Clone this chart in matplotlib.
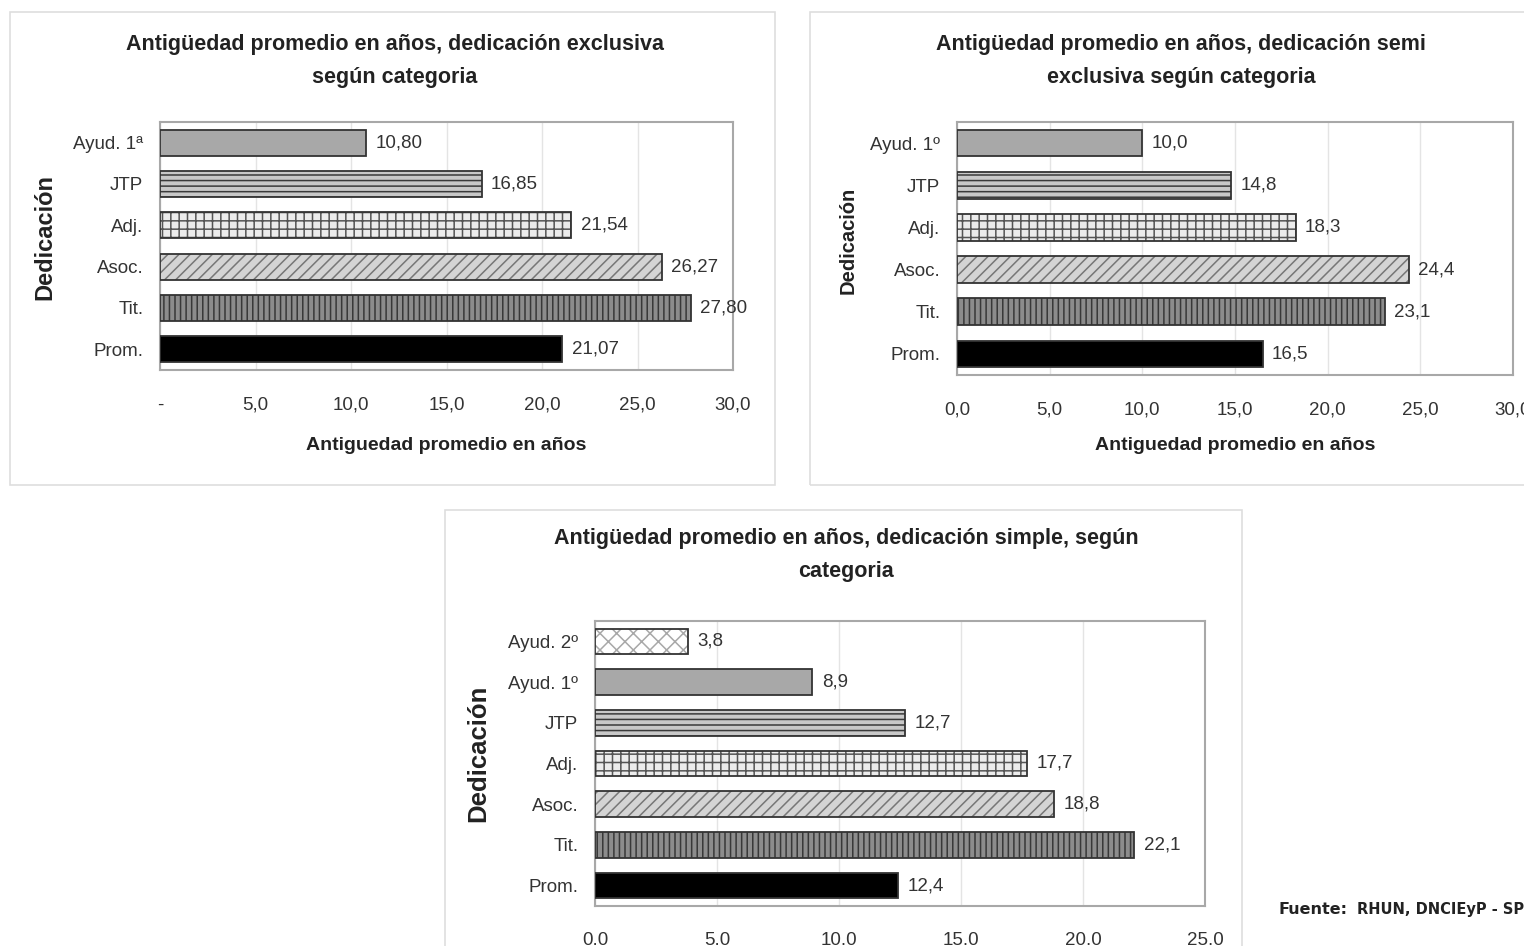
import numpy as np
import matplotlib
matplotlib.use("Agg")
import matplotlib.pyplot as plt
from matplotlib.patches import Rectangle

plt.rcParams['font.family'] = ['Liberation Sans', 'DejaVu Sans']
plt.rcParams['hatch.linewidth'] = 1.1

# data, top to bottom
cats_excl = ['Ayud. 1ª', 'JTP', 'Adj.', 'Asoc.', 'Tit.', 'Prom.']
vals_excl = [10.80, 16.85, 21.54, 26.27, 27.80, 21.07]
lbls_excl = ['10,80', '16,85', '21,54', '26,27', '27,80', '21,07']
ticks_excl = ['-', '5,0', '10,0', '15,0', '20,0', '25,0', '30,0']

cats_semi = ['Ayud. 1º', 'JTP', 'Adj.', 'Asoc.', 'Tit.', 'Prom.']
vals_semi = [10.0, 14.8, 18.3, 24.4, 23.1, 16.5]
lbls_semi = ['10,0', '14,8', '18,3', '24,4', '23,1', '16,5']
ticks_semi = ['0,0', '5,0', '10,0', '15,0', '20,0', '25,0', '30,0']

cats_simp = ['Ayud. 2º', 'Ayud. 1º', 'JTP', 'Adj.', 'Asoc.', 'Tit.', 'Prom.']
vals_simp = [3.8, 8.9, 12.7, 17.7, 18.8, 22.1, 12.4]
lbls_simp = ['3,8', '8,9', '12,7', '17,7', '18,8', '22,1', '12,4']
ticks_simp = ['0.0', '5.0', '10.0', '15.0', '20.0', '25.0']

# fill style per category: (face, hatch, hatch colour)
styles = {
    'Ayud. 2º': ('white', 'xx', '#a8a8a8'),
    'Ayud. 1ª': ('#a8a8a8', '', '#404040'),
    'Ayud. 1º': ('#a8a8a8', '', '#404040'),
    'JTP': ('#c8c8c8', '---', '#3a3a3a'),
    'Adj.': ('#ececec', '++', '#555555'),
    'Asoc.': ('#d4d4d4', '///', '#777777'),
    'Tit.': ('#8c8c8c', '|||', '#383838'),
    'Prom.': ('black', '', 'black'),
}

W, H = 1524, 946
fig = plt.figure(figsize=(W / 100, H / 100), dpi=100)


def px(x0, y0, x1, y1):
    return [x0 / W, 1 - y1 / H, (x1 - x0) / W, (y1 - y0) / H]


# panel frames
for (x0, y0, x1, y1) in [(10, 12, 775, 485), (810, 12, 1540, 485), (445, 510, 1242, 960)]:
    fig.patches.append(Rectangle((x0 / W, 1 - y1 / H), (x1 - x0) / W, (y1 - y0) / H,
                                 transform=fig.transFigure, fill=False,
                                 edgecolor='#dedede', linewidth=1.2))


def panel(rect, cats, vals, lbls, ticks, xmax, title, tx, ty, ylab, ylx, yly, yfs, xlab=None, xly=None):
    ax = fig.add_axes(px(*rect))
    y = np.arange(len(cats))
    for i, c in enumerate(cats):
        face, hatch, hc = styles[c]
        ax.barh(y[i], vals[i], height=0.63, color=face, hatch=hatch,
                edgecolor=hc, linewidth=0, zorder=3)
        ax.barh(y[i], vals[i], height=0.63, fill=False, edgecolor='#333333',
                linewidth=1.3, zorder=4)
        ax.text(vals[i] + xmax * 0.016, y[i], lbls[i], va='center', ha='left',
                fontsize=13.5, color='#333333')
    ax.set_xlim(0, xmax)
    ax.set_ylim(len(cats) - 0.5, -0.5)
    ax.set_xticks(np.arange(0, xmax + 0.1, 5))
    ax.set_xticklabels(ticks)
    ax.set_yticks(y)
    ax.set_yticklabels(cats)
    ax.tick_params(axis='x', length=0, pad=19, labelsize=13.5, labelcolor='#333333')
    ax.tick_params(axis='y', length=0, pad=12, labelsize=13.5, labelcolor='#333333')
    ax.grid(axis='x', color='#e4e4e4', linewidth=1.0, zorder=0)
    for s in ax.spines.values():
        s.set_color('#a8a8a8')
        s.set_linewidth(1.5)
    fig.text(tx / W, 1 - ty / H, title, ha='center', va='center', fontsize=15.5,
             fontweight='bold', color='#222222', linespacing=1.75)
    fig.text(ylx / W, 1 - yly / H, ylab, rotation=90, ha='center',
             va='center', fontsize=yfs, fontweight='bold', color='#222222')
    if xlab:
        fig.text((rect[0] + rect[2]) / 2 / W, 1 - xly / H, xlab, ha='center', va='center',
                 fontsize=14, fontweight='bold', color='#222222')
    return ax


panel((160, 122, 733, 370), cats_excl, vals_excl, lbls_excl, ticks_excl, 30,
      'Antigüedad promedio en años, dedicación exclusiva\nsegún categoria', 395, 61,
      'Dedicación', 45, 237, 17, 'Antiguedad promedio en años', 445)

panel((957, 122, 1513, 375), cats_semi, vals_semi, lbls_semi, ticks_semi, 30,
      'Antigüedad promedio en años, dedicación semi\nexclusiva según categoria', 1181, 61,
      'Dedicación', 848, 240, 14.5, 'Antiguedad promedio en años', 445)

panel((595, 621, 1205, 906), cats_simp, vals_simp, lbls_simp, ticks_simp, 25,
      'Antigüedad promedio en años, dedicación simple, según\ncategoria', 846, 555,
      'Dedicación', 478, 753, 18.5)

fig.text(1279 / W, 1 - 909 / H, 'Fuente:', ha='left', va='center', fontsize=11.5,
         fontweight='bold', color='#222222', family=['DejaVu Sans'])
fig.text(1357 / W, 1 - 909 / H, 'RHUN, DNCIEyP - SPU', ha='left', va='center', fontsize=10.5,
         fontweight='bold', color='#222222', family=['DejaVu Sans'])

fig.savefig('out.png', dpi=100)
